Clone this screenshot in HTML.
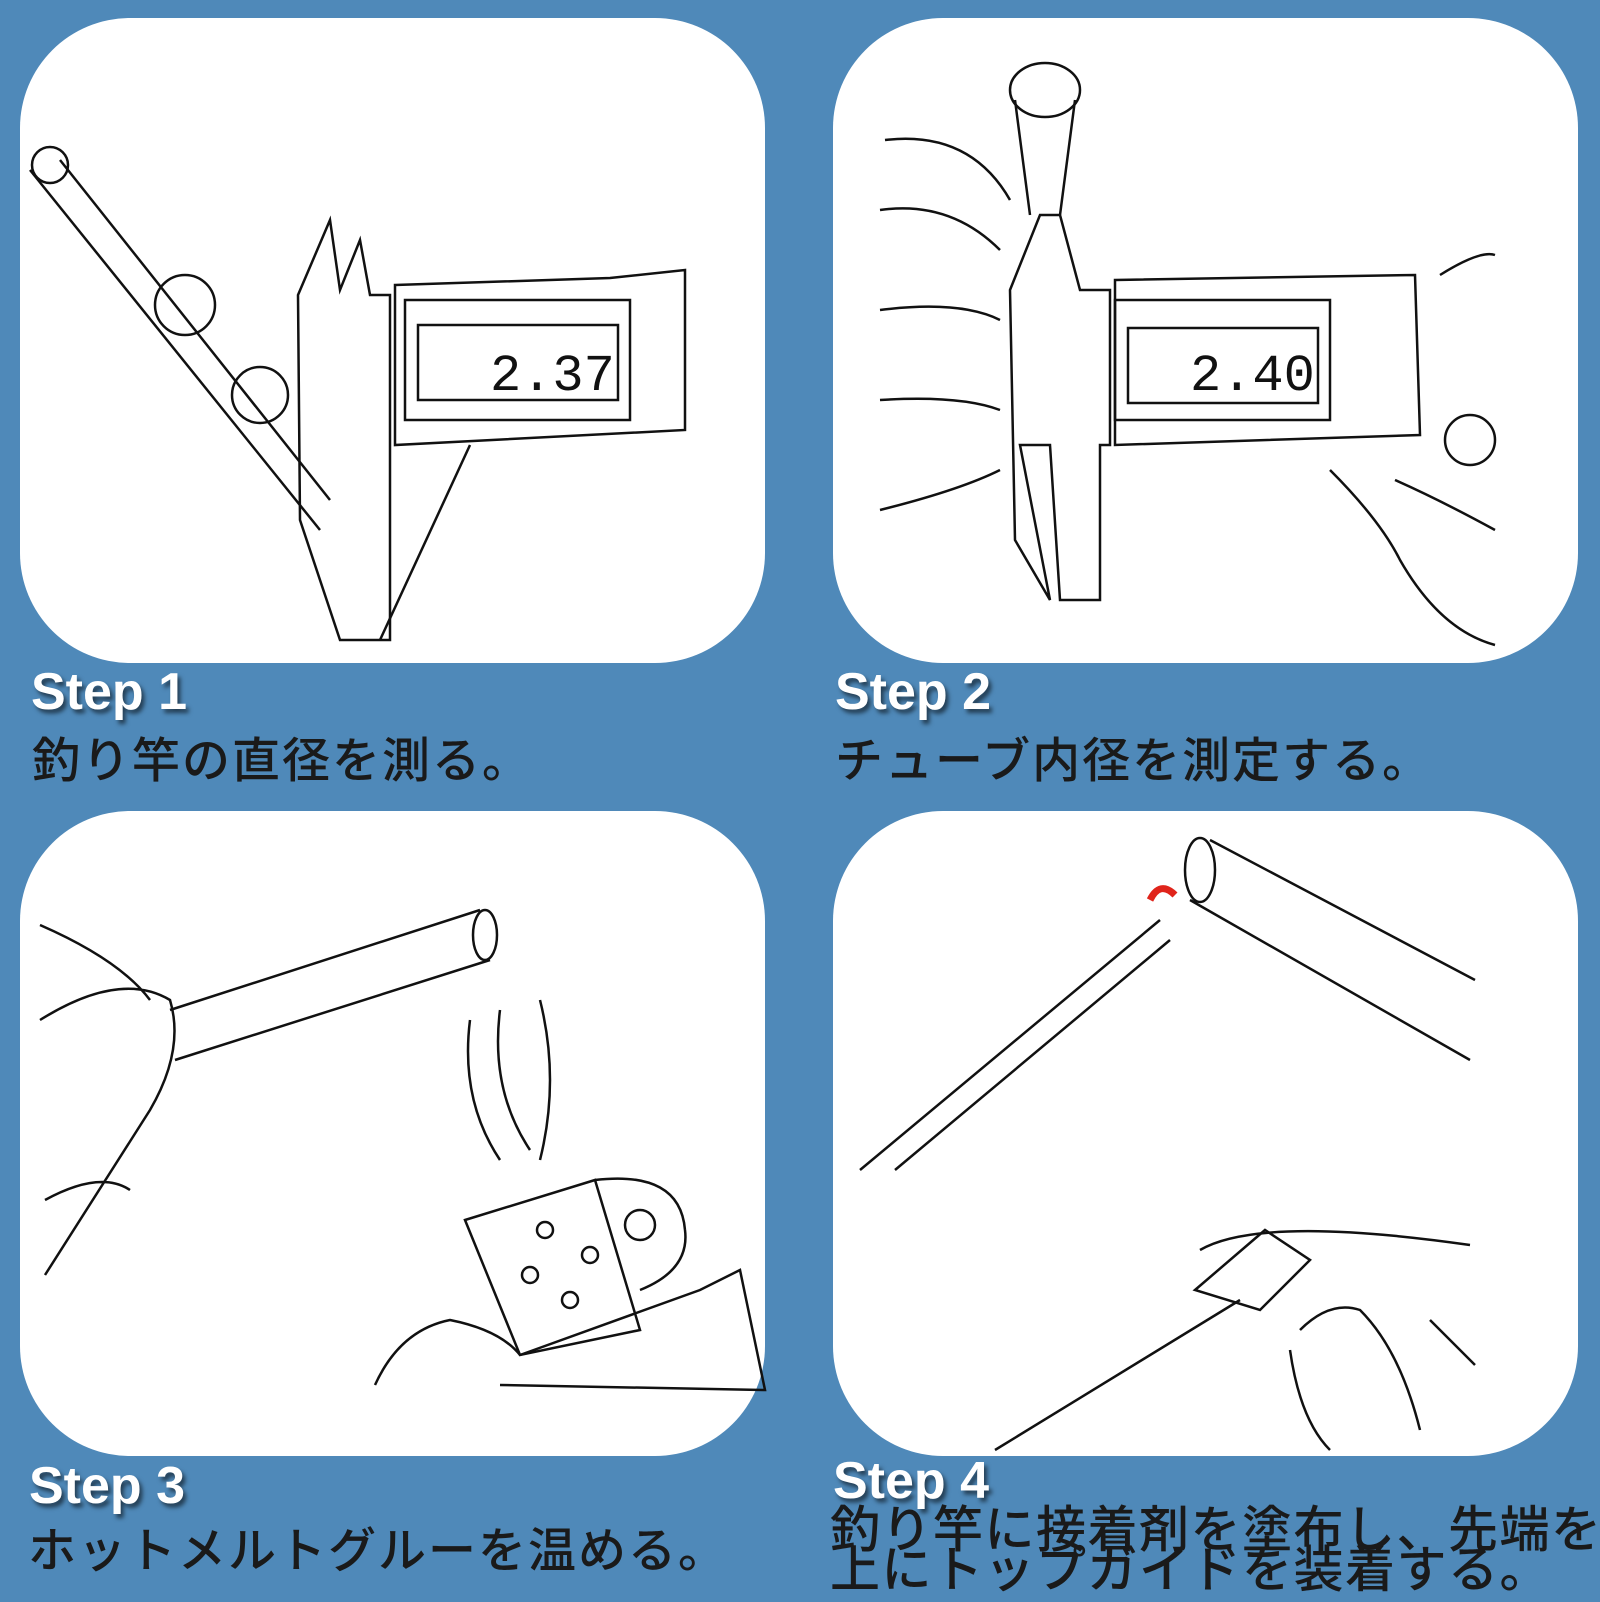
<!DOCTYPE html>
<html><head><meta charset="utf-8"><style>
body{margin:0;width:1600px;height:1600px;background:#4f89b9;position:relative;overflow:hidden;font-family:"Liberation Sans","Noto Sans CJK JP",sans-serif}
.p{position:absolute;background:#fff;border-radius:110px;width:745px;height:645px}
.s{position:absolute;color:#fff;font-weight:bold;font-size:52px;text-shadow:3px 4px 4px rgba(0,0,0,.55);line-height:1}
.j{position:absolute;color:#1a1a1a;font-size:48px;letter-spacing:2px;line-height:1;font-family:"Noto Sans CJK JP",sans-serif;font-weight:500;white-space:nowrap}
svg{position:absolute;left:0;top:0}
</style></head><body>
<div class="p" style="left:20px;top:18px"></div>
<div class="p" style="left:833px;top:18px"></div>
<div class="p" style="left:20px;top:811px"></div>
<div class="p" style="left:833px;top:811px"></div>
<svg width="1600" height="1600" fill="none" stroke="#111" stroke-width="2.5">
<line x1="30" y1="170" x2="320" y2="530"/><line x1="60" y1="160" x2="330" y2="500"/>
<circle cx="50" cy="165" r="18"/><circle cx="185" cy="305" r="30"/><circle cx="260" cy="395" r="28"/>
<path d="M298 295 L330 220 L340 290 L360 240 L370 295 L390 295 L390 640 L340 640 L300 520 Z"/>
<path d="M395 285 L610 278 L685 270 L685 430 L395 445 Z"/>
<rect x="418" y="325" width="200" height="75"/><rect x="405" y="300" width="225" height="120"/>
<path d="M380 640 L470 445"/>
<text x="490" y="390" font-size="52" fill="#111" stroke="none" font-family="Liberation Mono">2.37</text>
<path d="M1010 290 L1040 215 L1060 215 L1080 290 L1110 290 L1110 445 L1100 445 L1100 600 L1060 600 L1050 445 L1020 445 L1050 600 L1015 540 Z"/>
<ellipse cx="1045" cy="90" rx="35" ry="27"/><path d="M1015 100 L1030 215 M1075 100 L1060 215"/>
<path d="M1115 280 L1415 275 L1420 435 L1115 445 Z"/>
<rect x="1128" y="328" width="190" height="75"/><rect x="1115" y="300" width="215" height="120"/>
<text x="1190" y="390" font-size="52" fill="#111" stroke="none" font-family="Liberation Mono">2.40</text>
<path d="M885 140 Q970 130 1010 200 M880 210 Q950 200 1000 250 M880 310 Q960 300 1000 320 M880 400 Q960 395 1000 410 M880 510 Q960 490 1000 470"/>
<path d="M1440 275 Q1480 250 1495 255 M1330 470 Q1380 520 1400 560 Q1440 630 1495 645 M1395 480 Q1440 500 1495 530"/><circle cx="1470" cy="440" r="25"/>
<path d="M170 1010 L480 910 M175 1060 L490 960"/><ellipse cx="485" cy="935" rx="12" ry="25"/>
<path d="M40 925 Q120 960 150 1000 M40 1020 Q120 970 170 1000 Q185 1050 150 1110 Q80 1220 45 1275 M45 1200 Q100 1170 130 1190"/>
<path d="M465 1220 L595 1180 L640 1330 L520 1355 Z"/><path d="M595 1180 Q680 1170 685 1230 Q690 1270 640 1290"/>
<path d="M520 1355 L700 1290 L740 1270 L765 1390 L500 1385"/><path d="M375 1385 Q400 1330 450 1320 Q500 1330 520 1355"/>
<circle cx="545" cy="1230" r="8"/><circle cx="590" cy="1255" r="8"/><circle cx="530" cy="1275" r="8"/><circle cx="570" cy="1300" r="8"/><circle cx="640" cy="1225" r="15"/>
<path d="M470 1020 Q460 1100 500 1160 M500 1010 Q490 1090 530 1150 M540 1000 Q560 1080 540 1160"/>
<path d="M860 1170 L1160 920 M895 1170 L1170 940"/>
<path d="M1210 840 L1475 980 M1190 900 L1470 1060"/><ellipse cx="1200" cy="870" rx="15" ry="32"/>
<path d="M1150 900 Q1160 880 1175 895" stroke="#e0241b" stroke-width="7"/>
<path d="M995 1450 L1240 1300"/><path d="M1195 1290 L1265 1230 L1310 1260 L1260 1310 Z"/>
<path d="M1200 1250 Q1260 1215 1470 1245 M1300 1330 Q1330 1300 1360 1310 Q1400 1350 1420 1430 M1290 1350 Q1300 1420 1330 1450 M1430 1320 L1475 1365"/>
</svg>
<div class="s" style="left:31px;top:666px">Step 1</div>
<div class="j" style="left:32px;top:732px">釣り竿の直径を測る。</div>
<div class="s" style="left:835px;top:666px">Step 2</div>
<div class="j" style="left:835px;top:732px">チューブ内径を測定する。</div>
<div class="s" style="left:29px;top:1460px">Step 3</div>
<div class="j" style="left:28px;top:1522px">ホットメルトグルーを温める。</div>
<div class="s" style="left:833px;top:1455px">Step 4</div>
<div class="j" style="left:830px;top:1506px;line-height:40px;font-size:50px;letter-spacing:1.5px">釣り竿に接着剤を塗布し、先端を<br>上にトップガイドを装着する。</div>
</body></html>
